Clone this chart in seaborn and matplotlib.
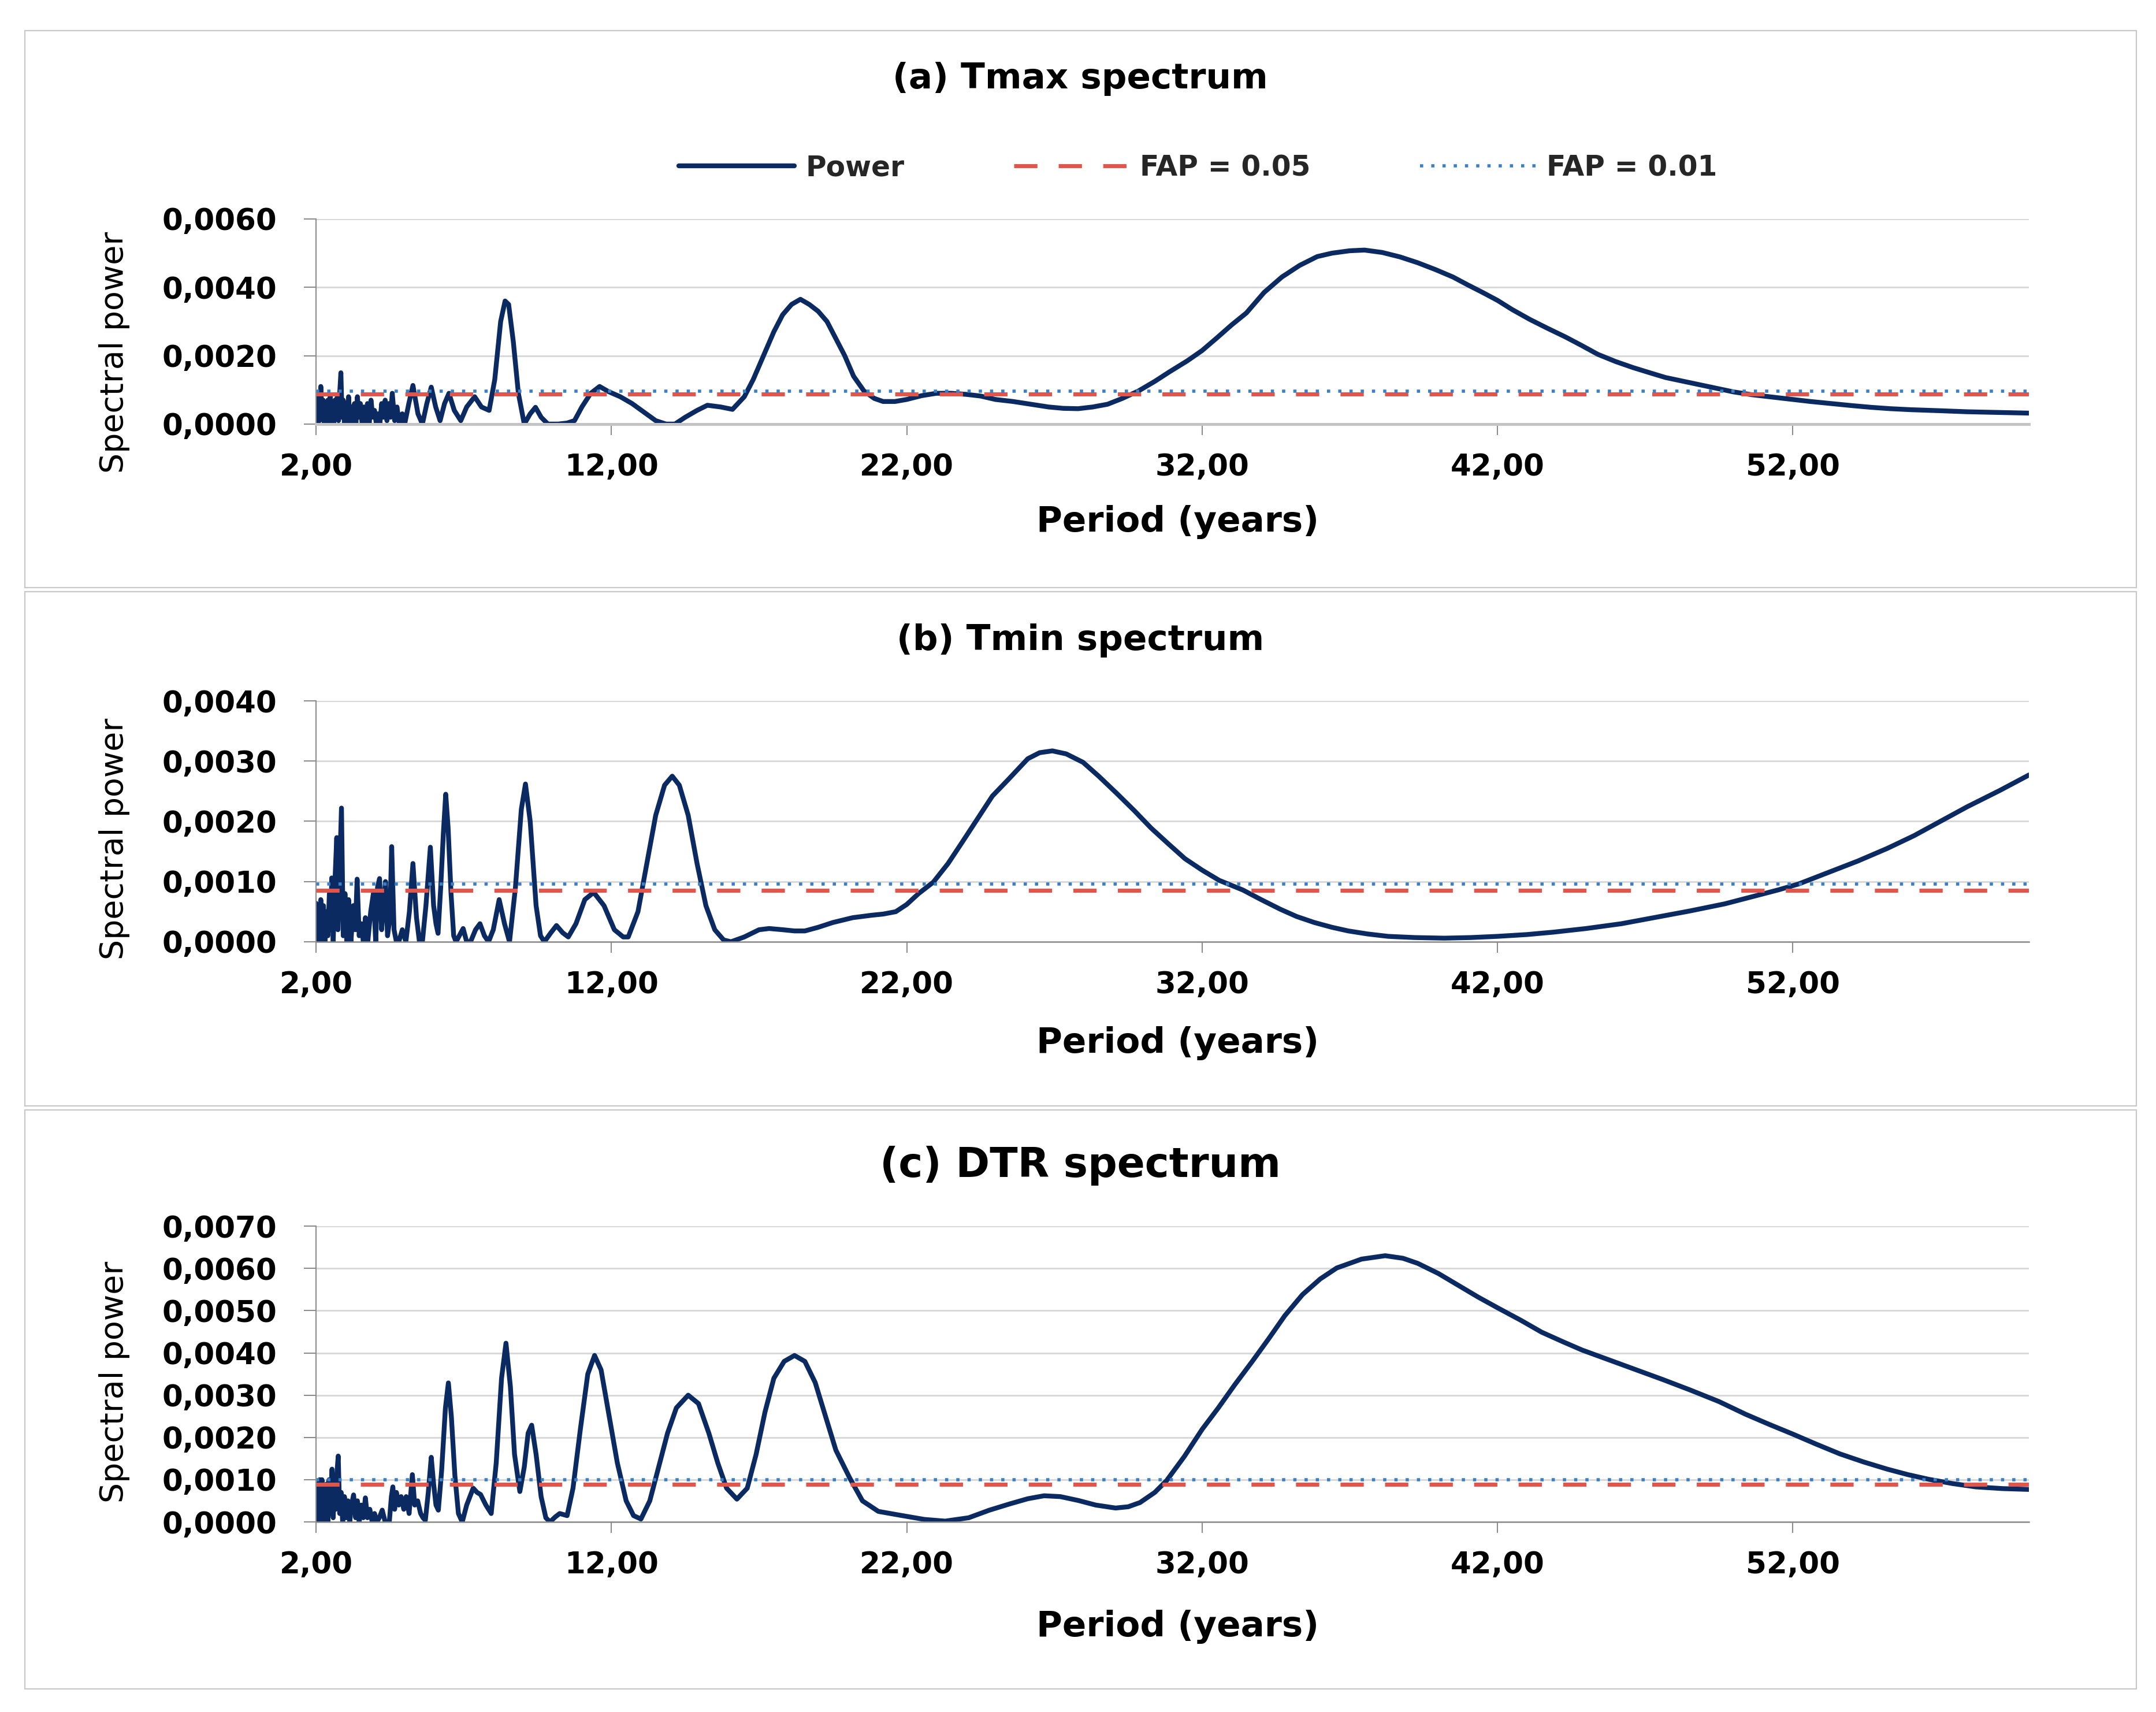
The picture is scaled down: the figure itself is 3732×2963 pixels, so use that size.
import numpy as np
import pandas as pd
import matplotlib
matplotlib.use("Agg")
import matplotlib.pyplot as plt
import seaborn as sns
from matplotlib.ticker import FuncFormatter
from matplotlib.patches import Rectangle

# ---------------- data (period in years, spectral power) ----------------
tmax_points = [
    (2.00, 0.0004), (2.04, 0.0000), (2.08, 0.0008), (2.12, 0.0001), (2.16, 0.0011),
    (2.20, 0.0002), (2.24, 0.0007), (2.28, 0.0000), (2.32, 0.0006), (2.36, 0.0001),
    (2.40, 0.0007), (2.44, 0.0000), (2.48, 0.0008), (2.52, 0.0001), (2.56, 0.0006),
    (2.60, 0.0000), (2.64, 0.0007), (2.68, 0.0002), (2.72, 0.0008), (2.76, 0.0001),
    (2.80, 0.0009), (2.84, 0.0015), (2.88, 0.0002), (2.92, 0.0007), (2.96, 0.0000),
    (3.00, 0.0006), (3.05, 0.0001), (3.10, 0.0008), (3.15, 0.0000), (3.20, 0.0005),
    (3.25, 0.0001), (3.30, 0.0006), (3.35, 0.0000), (3.40, 0.0008), (3.45, 0.0002),
    (3.50, 0.0006), (3.56, 0.0000), (3.62, 0.0005), (3.68, 0.0001), (3.74, 0.0006),
    (3.80, 0.0000), (3.86, 0.0007), (3.92, 0.0002), (3.98, 0.0004), (4.04, 0.0000),
    (4.10, 0.0003), (4.16, 0.0000), (4.22, 0.0006), (4.28, 0.0002), (4.34, 0.0007),
    (4.40, 0.0001), (4.46, 0.0006), (4.52, 0.0002), (4.58, 0.0009), (4.66, 0.0001),
    (4.74, 0.0005), (4.82, 0.0000), (4.92, 0.0003), (5.00, 0.0000), (5.14, 0.0006),
    (5.28, 0.00113), (5.45, 0.0003), (5.60, 0.0000), (5.75, 0.0006), (5.90, 0.00108),
    (6.05, 0.0005), (6.20, 0.0001), (6.35, 0.0006), (6.50, 0.0009), (6.68, 0.0004),
    (6.90, 0.0001), (7.10, 0.0005), (7.37, 0.0008), (7.60, 0.0005), (7.86, 0.0004),
    (8.05, 0.0013), (8.25, 0.0030), (8.40, 0.0036), (8.52, 0.0035), (8.68, 0.0024),
    (8.85, 0.0009), (9.05, 0.0000), (9.25, 0.0003), (9.43, 0.00049), (9.62, 0.0002),
    (9.85, 0.0000), (10.2, 0.0000), (10.5, 0.00003), (10.75, 0.0001), (11.0, 0.0005),
    (11.3, 0.0009), (11.6, 0.0011), (11.9, 0.00095), (12.3, 0.0008), (12.7, 0.0006),
    (13.1, 0.00035), (13.5, 0.0001), (13.85, 0.0000), (14.15, 0.0000), (14.5, 0.0002),
    (14.9, 0.0004), (15.25, 0.00055), (15.7, 0.0005), (16.1, 0.00043), (16.5, 0.0008),
    (16.8, 0.0013), (17.15, 0.0020), (17.5, 0.0027), (17.8, 0.0032), (18.1, 0.0035),
    (18.4, 0.00365), (18.7, 0.0035), (19.0, 0.0033), (19.3, 0.0030), (19.6, 0.0025),
    (19.9, 0.0020), (20.2, 0.0014), (20.55, 0.00097), (20.9, 0.00075), (21.2, 0.00066),
    (21.6, 0.00066), (22.0, 0.00072), (22.5, 0.00083), (23.0, 0.0009), (23.5, 0.0009),
    (24.0, 0.00087), (24.5, 0.00082), (25.0, 0.00072), (25.6, 0.00066), (26.2, 0.00058),
    (26.8, 0.0005), (27.3, 0.00046), (27.8, 0.00045), (28.3, 0.0005), (28.8, 0.00058),
    (29.3, 0.00075), (29.85, 0.00097), (30.4, 0.00125), (30.9, 0.00153), (31.5, 0.00185),
    (32.0, 0.00215), (32.5, 0.00252), (33.0, 0.0029), (33.5, 0.00325), (34.1, 0.00385),
    (34.7, 0.0043), (35.3, 0.00464), (35.9, 0.0049), (36.4, 0.0050), (37.0, 0.00507),
    (37.5, 0.00509), (38.1, 0.00502), (38.7, 0.00489), (39.3, 0.00472), (39.9, 0.00452),
    (40.5, 0.0043), (41.0, 0.00407), (41.5, 0.00385), (42.0, 0.00362), (42.5, 0.00335),
    (43.1, 0.00306), (43.7, 0.0028), (44.3, 0.00255), (44.85, 0.0023), (45.4, 0.00204),
    (46.0, 0.00183), (46.6, 0.00165), (47.2, 0.00149), (47.7, 0.00136), (48.3, 0.00125),
    (48.9, 0.00114), (49.5, 0.00103), (50.0, 0.00094), (50.6, 0.00086), (51.2, 0.0008),
    (52.0, 0.00072), (52.6, 0.00066), (53.3, 0.0006), (54.0, 0.00054), (54.65, 0.00049),
    (55.3, 0.00045), (56.0, 0.00042), (57.0, 0.00039), (57.9, 0.00036), (59.0, 0.00034),
    (60.0, 0.00032),
]

tmin_points = [
    (2.00, 0.00064), (2.04, 0.0000), (2.08, 0.0006), (2.12, 0.0001), (2.16, 0.0007),
    (2.20, 0.0000), (2.25, 0.0006), (2.30, 0.0000), (2.35, 0.0005), (2.40, 0.0001),
    (2.45, 0.0008), (2.50, 0.0002), (2.53, 0.00106), (2.58, 0.0000), (2.63, 0.0009),
    (2.70, 0.00173), (2.74, 0.0002), (2.80, 0.0012), (2.86, 0.00222), (2.92, 0.0001),
    (2.98, 0.0008), (3.04, 0.0000), (3.10, 0.0007), (3.18, 0.0000), (3.26, 0.0006),
    (3.33, 0.0002), (3.39, 0.00104), (3.46, 0.0001), (3.53, 0.0003), (3.60, 0.0000),
    (3.67, 0.0004), (3.75, 0.0000), (3.85, 0.0005), (3.94, 0.0008), (4.02, 0.0000),
    (4.08, 0.0009), (4.15, 0.00105), (4.22, 0.0002), (4.28, 0.0006), (4.35, 0.0010),
    (4.42, 0.0001), (4.50, 0.0004), (4.56, 0.00158), (4.64, 0.0002), (4.72, 0.0000),
    (4.80, 0.0000), (4.92, 0.0002), (5.04, 0.0000), (5.16, 0.0005), (5.28, 0.0013),
    (5.40, 0.0004), (5.50, 0.0000), (5.60, 0.0000), (5.72, 0.0006), (5.87, 0.00157),
    (5.98, 0.0006), (6.06, 0.0003), (6.13, 0.00014), (6.22, 0.0009), (6.31, 0.0018),
    (6.39, 0.00245), (6.47, 0.0019), (6.57, 0.0008), (6.66, 0.0001), (6.74, 0.0000),
    (6.85, 0.0001), (6.98, 0.00022), (7.10, 0.0000), (7.23, 0.0000), (7.40, 0.0002),
    (7.55, 0.0003), (7.70, 0.0001), (7.84, 0.0000), (8.00, 0.0002), (8.20, 0.0007),
    (8.38, 0.0003), (8.55, 0.0000), (8.75, 0.0009), (8.95, 0.0022), (9.09, 0.00262),
    (9.25, 0.0020), (9.45, 0.0006), (9.60, 0.0001), (9.73, 0.0000), (9.95, 0.00015),
    (10.14, 0.00027), (10.35, 0.00015), (10.54, 0.00008), (10.8, 0.0003), (11.1, 0.0007),
    (11.4, 0.00082), (11.75, 0.0006), (12.1, 0.0002), (12.4, 0.00008), (12.57, 0.00008),
    (12.9, 0.0005), (13.2, 0.0013), (13.5, 0.0021), (13.8, 0.0026), (14.06, 0.00275),
    (14.3, 0.0026), (14.6, 0.0021), (14.9, 0.0013), (15.2, 0.0006), (15.5, 0.0002),
    (15.8, 0.00003), (16.05, 0.0), (16.5, 0.00008), (17.0, 0.0002), (17.34, 0.00022),
    (17.8, 0.0002), (18.2, 0.00018), (18.55, 0.00018), (19.0, 0.00024), (19.5, 0.00032),
    (20.17, 0.0004), (20.8, 0.00044), (21.2, 0.00046), (21.63, 0.0005), (22.0, 0.00062),
    (22.4, 0.0008), (22.9, 0.00099), (23.4, 0.0013), (23.9, 0.00167), (24.38, 0.00203),
    (24.9, 0.00242), (25.43, 0.00269), (26.1, 0.00304), (26.5, 0.00314), (26.93, 0.00317),
    (27.4, 0.00312), (27.97, 0.00298), (28.5, 0.00275), (29.12, 0.00246), (29.7, 0.00218),
    (30.27, 0.00189), (30.85, 0.00163), (31.42, 0.00138), (32.0, 0.00119), (32.58, 0.00102),
    (33.38, 0.00086), (34.0, 0.0007), (34.65, 0.00054), (35.2, 0.00042), (35.8, 0.00032),
    (36.4, 0.00024), (36.95, 0.00018), (37.6, 0.00013), (38.3, 0.00009), (39.2, 0.00007),
    (40.2, 0.00006), (41.1, 0.00007), (42.0, 0.00009), (43.0, 0.00012), (43.9, 0.00016),
    (45.0, 0.00022), (46.2, 0.0003), (47.3, 0.0004), (48.5, 0.00051), (49.7, 0.00063),
    (50.8, 0.00077), (51.5, 0.00086), (52.2, 0.00096), (53.2, 0.00115), (54.2, 0.00134),
    (55.2, 0.00155), (56.1, 0.00176), (57.0, 0.0020), (57.9, 0.00224), (59.0, 0.00251),
    (60.0, 0.00277),
]

dtr_points = [
    (2.00, 0.0003), (2.04, 0.0009), (2.08, 0.0000), (2.12, 0.0010), (2.16, 0.0002),
    (2.20, 0.0010), (2.24, 0.0000), (2.28, 0.0008), (2.32, 0.0001), (2.36, 0.0009),
    (2.40, 0.0000), (2.44, 0.0010), (2.48, 0.0002), (2.54, 0.00125), (2.58, 0.0001),
    (2.62, 0.0009), (2.66, 0.0003), (2.70, 0.0011), (2.75, 0.00156), (2.80, 0.0002),
    (2.85, 0.0007), (2.90, 0.0000), (2.96, 0.0006), (3.02, 0.0001), (3.08, 0.0005),
    (3.14, 0.0000), (3.20, 0.0004), (3.27, 0.00064), (3.34, 0.0001), (3.40, 0.0005),
    (3.46, 0.0000), (3.53, 0.0004), (3.60, 0.0001), (3.67, 0.00057), (3.74, 0.0001),
    (3.82, 0.0003), (3.90, 0.0000), (3.98, 0.0002), (4.06, 0.0000), (4.14, 0.0001),
    (4.24, 0.00028), (4.34, 0.0000), (4.48, 0.0000), (4.55, 0.0006), (4.60, 0.00083),
    (4.66, 0.0003), (4.72, 0.0007), (4.80, 0.0004), (4.88, 0.0006), (4.97, 0.0003),
    (5.05, 0.0006), (5.15, 0.0002), (5.26, 0.00112), (5.34, 0.0004), (5.44, 0.0005),
    (5.54, 0.0002), (5.62, 0.0001), (5.70, 0.00004), (5.80, 0.0007), (5.90, 0.00153),
    (5.98, 0.0009), (6.06, 0.0004), (6.14, 0.00028), (6.25, 0.0012), (6.38, 0.0027),
    (6.48, 0.00329), (6.58, 0.0025), (6.70, 0.0011), (6.82, 0.0002), (6.95, 0.0),
    (7.10, 0.0004), (7.32, 0.0008), (7.45, 0.0007), (7.57, 0.00065), (7.75, 0.0004),
    (7.93, 0.0002), (8.10, 0.0014), (8.28, 0.0034), (8.43, 0.00423), (8.58, 0.0032),
    (8.72, 0.0016), (8.90, 0.00072), (9.05, 0.0013), (9.18, 0.0021), (9.30, 0.00229),
    (9.45, 0.0016), (9.62, 0.0006), (9.78, 0.0001), (9.92, 0.0), (10.1, 0.00012),
    (10.25, 0.0002), (10.5, 0.00015), (10.7, 0.0008), (10.95, 0.0022), (11.2, 0.0035),
    (11.43, 0.00394), (11.65, 0.0036), (11.9, 0.0026), (12.2, 0.0014), (12.5, 0.0005),
    (12.75, 0.00015), (13.0, 0.00007), (13.3, 0.0005), (13.6, 0.0013), (13.9, 0.0021),
    (14.2, 0.0027), (14.6, 0.0030), (14.95, 0.0028), (15.3, 0.0021), (15.6, 0.0014),
    (15.9, 0.0008), (16.25, 0.00054), (16.6, 0.0008), (16.9, 0.0016), (17.2, 0.0026),
    (17.5, 0.0034), (17.85, 0.0038), (18.2, 0.00394), (18.55, 0.0038), (18.9, 0.0033),
    (19.25, 0.0025), (19.6, 0.0017), (20.07, 0.00104), (20.5, 0.0005), (21.04, 0.00025),
    (21.85, 0.00015), (22.6, 0.00006), (23.3, 0.00002), (24.1, 0.0001), (24.8, 0.00028),
    (25.5, 0.00043), (26.1, 0.00055), (26.65, 0.00062), (27.2, 0.0006), (27.8, 0.00051),
    (28.4, 0.0004), (29.07, 0.00033), (29.5, 0.00036), (29.9, 0.00046), (30.4, 0.0007),
    (30.8, 0.00098), (31.4, 0.00155), (32.0, 0.00219), (32.55, 0.0027), (33.1, 0.00324),
    (33.7, 0.0038), (34.26, 0.00434), (34.8, 0.00488), (35.4, 0.00538), (36.0, 0.00575),
    (36.56, 0.00601), (37.4, 0.00622), (38.2, 0.0063), (38.8, 0.00624), (39.3, 0.00612),
    (40.0, 0.00588), (40.7, 0.00559), (41.35, 0.00532), (42.0, 0.00507), (42.8, 0.00477),
    (43.5, 0.00449), (44.2, 0.00427), (44.86, 0.00407), (45.8, 0.00383), (46.7, 0.0036),
    (47.6, 0.00337), (48.5, 0.00313), (49.5, 0.00285), (50.4, 0.00255), (51.2, 0.00231),
    (52.0, 0.00208), (52.8, 0.00184), (53.6, 0.00161), (54.4, 0.00142), (55.2, 0.00125),
    (55.9, 0.00112), (56.6, 0.00101), (57.4, 0.00091), (58.2, 0.00083), (59.1, 0.00079),
    (60.0, 0.00077),
]

# false-alarm-probability levels per panel: (FAP = 0.05, FAP = 0.01)
tmax_fap = (0.00087, 0.00097)
tmin_fap = (0.00085, 0.00096)
dtr_fap = (0.00089, 0.00100)

panel_titles = ["(a) Tmax spectrum", "(b) Tmin spectrum", "(c) DTR spectrum"]
legend_labels = ["Power", "FAP = 0.05", "FAP = 0.01"]
x_ticks = [2, 12, 22, 32, 42, 52]
period_range = (2, 60)
y_tops = [0.006, 0.004, 0.007]
y_steps = [0.002, 0.001, 0.001]

# ---------------- style ----------------
sns.set_theme(style="white")
plt.rcParams["font.family"] = ["DejaVu Sans"]
plt.rcParams["font.weight"] = "bold"

NAVY = "#0c2a62"
RED = "#e0564c"
BLUE = "#3b7fc4"
GREY = "#8c8c8c"

fig = plt.figure(figsize=(37.32, 29.63), dpi=100)

# axes rectangles in figure fraction
left, width = 0.1466, 0.7945
rects = [
    (left, 0.7523, width, 0.1198),
    (left, 0.4499, width, 0.1407),
    (left, 0.1110, width, 0.1728),
]
title_y = [0.954, 0.626, 0.319]
title_size = [44, 44, 51]
xlabel_y = [-0.479, -0.422, -0.354]
ylabel_y = [0.35, 0.427, 0.473]
bottom_spine = [("#c4c4c4", 3.6), ("#8a8a8a", 1.8), ("#8a8a8a", 1.8)]
boxes = [(0.0115, 0.6568, 0.9794, 0.3253),
         (0.0115, 0.3540, 0.9794, 0.3004),
         (0.0115, 0.0135, 0.9794, 0.3382)]

series = [tmax_points, tmin_points, dtr_points]
faps = [tmax_fap, tmin_fap, dtr_fap]

xfmt = FuncFormatter(lambda v, p: f"{v:.2f}".replace(".", ","))
yfmt = FuncFormatter(lambda v, p: f"{v:.4f}".replace(".", ","))

axes = []
for i in range(3):
    ax = fig.add_axes(rects[i])
    axes.append(ax)
    df = pd.DataFrame(series[i], columns=["Period", "Power"])
    fap_df = pd.DataFrame({"Period": list(period_range),
                           "FAP05": [faps[i][0]] * 2,
                           "FAP01": [faps[i][1]] * 2})
    sns.lineplot(data=df, x="Period", y="Power", ax=ax, color=NAVY, lw=6.0,
                 estimator=None, sort=False, label=legend_labels[0],
                 solid_joinstyle="round", solid_capstyle="round")
    sns.lineplot(data=fap_df, x="Period", y="FAP05", ax=ax, color=RED, lw=5.0,
                 linestyle=(0, (5.8, 5.3)), label=legend_labels[1])
    sns.lineplot(data=fap_df, x="Period", y="FAP01", ax=ax, color=BLUE, lw=4.0,
                 linestyle=(0, (1.0, 2.5)), label=legend_labels[2])

    ax.set_xlim(*period_range)
    ax.set_ylim(0, y_tops[i])
    ax.set_xticks(x_ticks)
    ax.set_yticks(np.arange(0, y_tops[i] + 1e-9, y_steps[i]))
    ax.xaxis.set_major_formatter(xfmt)
    ax.yaxis.set_major_formatter(yfmt)

    ax.yaxis.grid(True, color="#d9d9d9", lw=2.2)
    ax.xaxis.grid(False)
    ax.set_axisbelow(True)
    for s in ["top", "right"]:
        ax.spines[s].set_visible(False)
    ax.spines["left"].set_color(GREY)
    ax.spines["left"].set_linewidth(1.5)
    ax.spines["bottom"].set_color(bottom_spine[i][0])
    ax.spines["bottom"].set_linewidth(bottom_spine[i][1])

    ax.tick_params(axis="x", direction="out", length=14, width=1.5, color=GREY,
                   labelsize=37, pad=22, bottom=True, labelcolor="black")
    ax.tick_params(axis="y", direction="out", length=15, width=1.5, color=GREY,
                   labelsize=37, pad=34, left=True, labelcolor="black")

    ax.set_xlabel("Period (years)", fontsize=44, fontweight="bold", color="black")
    ax.xaxis.set_label_coords(0.503, xlabel_y[i])
    ax.xaxis.label.set_va("center")
    ax.set_ylabel("Spectral power", fontsize=40, fontweight="normal", color="black")
    ax.yaxis.set_label_coords(-0.1177, ylabel_y[i])
    ax.yaxis.label.set_va("center")
    ax.yaxis.label.set_ha("center")

    fig.text(0.501, title_y[i], panel_titles[i], ha="center", va="center",
             fontsize=title_size[i], fontweight="bold", color="black")

    fig.add_artist(Rectangle(boxes[i][:2], boxes[i][2], boxes[i][3],
                             transform=fig.transFigure, fill=False,
                             edgecolor="#c8c8c8", lw=1.6))

handles, labels = axes[0].get_legend_handles_labels()
for ax in axes:
    if ax.get_legend() is not None:
        ax.get_legend().remove()
fig.legend(handles, labels, loc="center", bbox_to_anchor=(0.5557, 0.902), ncol=3,
           frameon=False, prop={"size": 35, "weight": "bold"}, handlelength=4.1,
           columnspacing=3.9, handletextpad=0.4)

fig.savefig("out.png", dpi=100)
